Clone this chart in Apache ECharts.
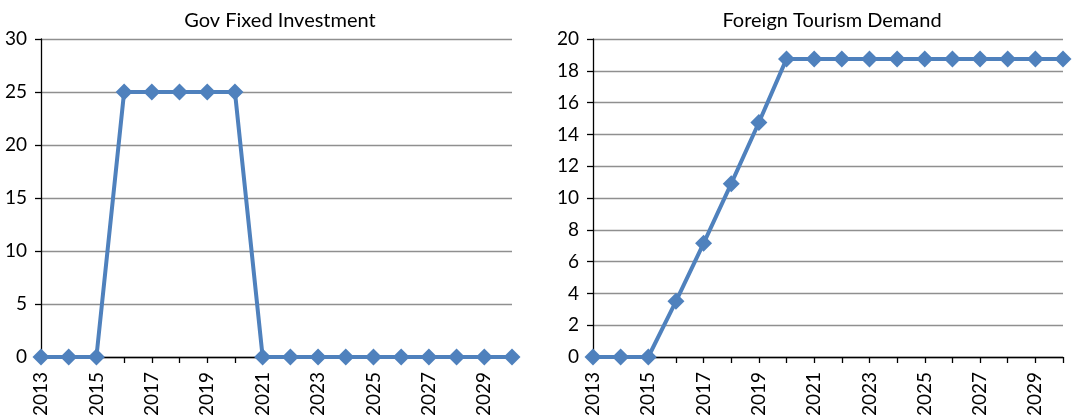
<!DOCTYPE html>
<html>
<head>
<meta charset="utf-8">
<script src="https://cdn.jsdelivr.net/npm/echarts@6/dist/echarts.min.js"></script>
<style>
  html, body { margin: 0; padding: 0; background: #fff; }
  #chart { width: 1073px; height: 416px; }
</style>
</head>
<body>
<div id="chart"></div>
<script>
// Years shown on both panels
const years = ['2013','2014','2015','2016','2017','2018','2019','2020','2021',
               '2022','2023','2024','2025','2026','2027','2028','2029','2030'];

// Government fixed investment shock
const govInvestment = [0, 0, 0, 25, 25, 25, 25, 25, 0, 0, 0, 0, 0, 0, 0, 0, 0, 0];

// Foreign tourism demand shock
const tourismDemand = [0, 0, 0, 3.5, 7.15, 10.9, 14.75, 18.75, 18.75, 18.75,
                       18.75, 18.75, 18.75, 18.75, 18.75, 18.75, 18.75, 18.75];

const titles = ['Gov Fixed Investment', 'Foreign Tourism Demand'];
const yMax = [30, 20];
const yStep = [5, 2];

const FONT = 'Lato, "Open Sans", sans-serif';
const LINE = '#4F81BD';

const chart = echarts.init(document.getElementById('chart'));

function xAxis(idx) {
  return {
    type: 'category', gridIndex: idx, data: years, boundaryGap: false,
    axisLine: { lineStyle: { color: '#000', width: 1.3 } },
    axisTick: { show: true, interval: 0, length: 6, lineStyle: { color: '#000', width: 1.3 } },
    axisLabel: { rotate: 90, interval: 1, color: '#000', fontSize: 19, fontFamily: FONT, margin: 15 },
    splitLine: { show: false }
  };
}
function yAxis(idx) {
  return {
    type: 'value', gridIndex: idx, min: 0, max: yMax[idx], interval: yStep[idx],
    axisLine: { show: true, lineStyle: { color: '#000', width: 1.3 } },
    axisTick: { show: true, length: 6, lineStyle: { color: '#000', width: 1.3 } },
    axisLabel: { color: '#000', fontSize: 19, fontFamily: FONT, margin: 14 },
    splitLine: { show: true, lineStyle: { color: '#8f8f8f', width: 1.3 } }
  };
}
function series(idx, data) {
  return {
    type: 'line', xAxisIndex: idx, yAxisIndex: idx, data: data,
    symbol: 'diamond', symbolSize: 17, showAllSymbol: true,
    lineStyle: { color: LINE, width: 4 },
    itemStyle: { color: LINE },
    animation: false
  };
}

chart.setOption({
  backgroundColor: '#fff',
  title: [
    { text: titles[0], left: 275, top: 6, textAlign: 'center',
      textStyle: { fontFamily: FONT, fontSize: 20, fontWeight: 'normal', color: '#000' } },
    { text: titles[1], left: 827, top: 6, textAlign: 'center',
      textStyle: { fontFamily: FONT, fontSize: 20, fontWeight: 'normal', color: '#000' } }
  ],
  grid: [
    { left: 41, width: 471, top: 39, bottom: 59, containLabel: false, outerBoundsMode: 'none' },
    { left: 593, right: 10, top: 39, bottom: 59, containLabel: false, outerBoundsMode: 'none' }
  ],
  xAxis: [xAxis(0), xAxis(1)],
  yAxis: [yAxis(0), yAxis(1)],
  series: [series(0, govInvestment), series(1, tourismDemand)]
});
</script>
</body>
</html>
